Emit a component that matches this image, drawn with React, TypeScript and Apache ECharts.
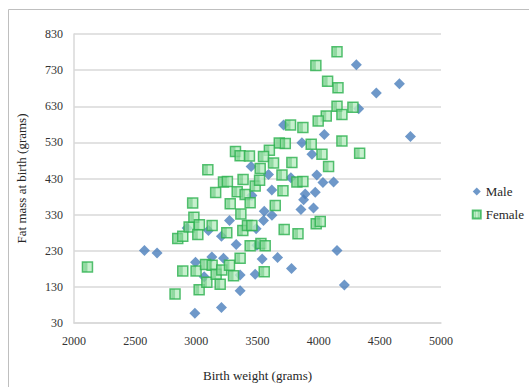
import React, { useEffect, useRef } from "react";
import * as echarts from "echarts";

const yTickLabels = ["30", "130", "230", "330", "430", "530", "630", "730", "830"];
const xTickLabels = ["2000", "2500", "3000", "3500", "4000", "4500", "5000"];
const Y_BASE = 30;

const maleWeight = [
  2576, 2679, 2988, 3205, 3358, 2993, 3127, 3222, 3064, 3358, 3481, 3326, 3205, 3099,
  3271, 2925, 3495, 3489, 3454, 3590, 3773, 3985, 4035, 4122, 3617, 3890, 3972, 3877,
  3855, 3958, 3555, 3618, 3549, 4150, 3538, 3664, 3778, 4210, 3448, 4308, 4660, 4471,
  4327, 3713, 4046, 4750, 3863, 3945,
];
const maleFat = [
  231, 224, 57, 73, 119, 198, 213, 209, 158, 163, 165, 247, 270, 286,
  314, 293, 245, 291, 383, 441, 432, 440, 419, 420, 398, 387, 392, 371,
  344, 348, 339, 328, 314, 231, 207, 211, 181, 135, 463, 745, 692, 667,
  623, 578, 552, 546, 529, 497,
];

const femaleWeight = [
  2110, 2826, 2889, 2848, 2889, 2941, 2970, 2980, 3012, 3025, 2998, 3023, 3075, 3086,
  3129, 3129, 3158, 3162, 3195, 3208, 3222, 3254, 3249, 3271, 3277, 3304, 3334, 3358,
  3364, 3382, 3380, 3399, 3418, 3440, 3440, 3481, 3700, 3708, 3645, 3822, 3871, 3718,
  3831, 3980, 4013, 3528, 3563, 3555, 4081, 3517, 3454, 3094, 3320, 3358, 3434, 4150,
  3977, 4073, 4158, 4150, 4280, 4062, 4190, 3996, 3770, 3871, 4190, 3939, 3678, 3727,
  4335, 4027, 3781, 3597, 3549, 3631, 3522,
];
const femaleFat = [
  185, 110, 174, 264, 270, 296, 362, 323, 275, 302, 174, 122, 192, 143,
  300, 190, 391, 165, 137, 177, 420, 422, 280, 190, 360, 161, 393, 209,
  332, 427, 286, 386, 300, 363, 244, 409, 440, 396, 355, 420, 422, 289,
  277, 305, 311, 250, 244, 172, 463, 425, 300, 454, 505, 493, 492, 781,
  743, 699, 681, 630, 627, 603, 607, 589, 578, 571, 534, 525, 528, 527,
  500, 497, 474, 508, 491, 473, 458,
];

function makeStripe(): any {
  const c = document.createElement("canvas");
  c.width = 3;
  c.height = 3;
  const ctx = c.getContext("2d");
  if (!ctx) return "#a3dfae";
  ctx.fillStyle = "#b9ecc2";
  ctx.fillRect(0, 0, 3, 3);
  ctx.fillStyle = "#74cf88";
  ctx.fillRect(2, 0, 1, 3);
  return { image: c, repeat: "repeat" };
}

export default function App() {
  const ref = useRef<HTMLDivElement>(null);
  useEffect(() => {
    if (!ref.current) return;
    const chart = echarts.init(ref.current, undefined, { renderer: "svg" });
    const font = "'Liberation Serif', 'Times New Roman', serif";
    const male = maleWeight.map((w, i) => [w, maleFat[i] - Y_BASE]);
    const female = femaleWeight.map((w, i) => [w, femaleFat[i] - Y_BASE]);
    const lineColor = "#d9d9d9";
    chart.setOption({
      animation: false,
      backgroundColor: "#ffffff",
      textStyle: { fontFamily: font },
      graphic: [
        {
          type: "rect",
          shape: { x: 8.5, y: 9.5, width: 700, height: 600 },
          style: { fill: "none", stroke: "#bfbfbf", lineWidth: 1 },
          silent: true,
        },
      ],
      grid: { left: 74, right: 88, top: 34, bottom: 62 },
      legend: {
        orient: "vertical",
        right: 0,
        top: 180,
        itemWidth: 8,
        itemHeight: 8,
        itemGap: 10,
        textStyle: { fontFamily: font, fontSize: 13, color: "#262626" },
        data: ["Male", "Female"],
      },
      xAxis: {
        type: "value",
        min: 2000,
        max: 5000,
        interval: 500,
        name: "Birth weight (grams)",
        nameLocation: "middle",
        nameGap: 46,
        nameTextStyle: { fontFamily: font, fontSize: 13, color: "#262626" },
        axisLine: { show: true, lineStyle: { color: lineColor, width: 1.5 } },
        axisTick: { show: false },
        splitLine: { show: false },
        axisLabel: {
          fontFamily: font,
          fontSize: 12,
          color: "#333",
          margin: 12,
          formatter: (v: number) => xTickLabels[Math.round((v - 2000) / 500)] ?? String(v),
        },
      },
      yAxis: {
        type: "value",
        min: 0,
        max: 800,
        interval: 100,
        name: "Fat mass at birth (grams)",
        nameLocation: "middle",
        nameGap: 46,
        nameTextStyle: { fontFamily: font, fontSize: 13, color: "#262626" },
        axisLine: { show: true, lineStyle: { color: lineColor, width: 1.5 } },
        axisTick: { show: false },
        splitLine: { show: true, lineStyle: { color: lineColor, width: 1.5 } },
        axisLabel: {
          fontFamily: font,
          fontSize: 12,
          color: "#333",
          margin: 11,
          formatter: (v: number) => yTickLabels[Math.round(v / 100)] ?? String(v + Y_BASE),
        },
      },
      series: [
        {
          name: "Male",
          type: "scatter",
          symbol: "diamond",
          symbolSize: 11,
          itemStyle: { color: "#4a7ebb" },
          data: male,
        },
        {
          name: "Female",
          type: "scatter",
          symbol: "rect",
          symbolSize: 10,
          itemStyle: { color: makeStripe(), borderColor: "#2bb04e", borderWidth: 1.5 },
          data: female,
        },
      ],
    });
    return () => chart.dispose();
  }, []);
  return (
    <div
      ref={ref}
      style={{ position: "absolute", left: 0, top: 0, width: 529, height: 387 }}
    />
  );
}
